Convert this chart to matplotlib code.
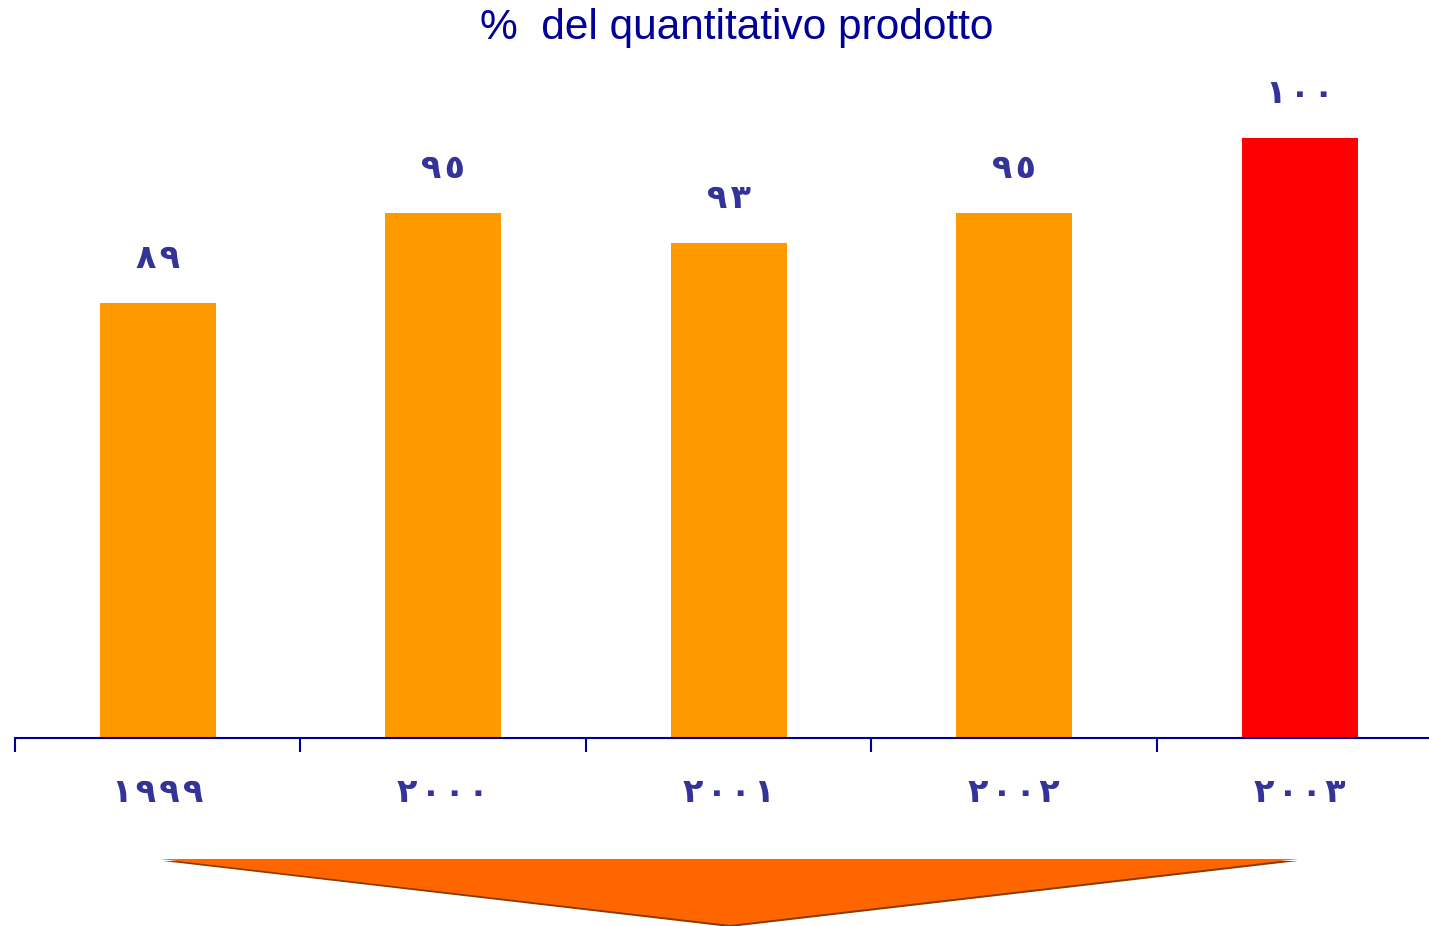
import matplotlib
matplotlib.use("Agg")
import matplotlib.pyplot as plt
from matplotlib.patches import Polygon

years = ["١٩٩٩", "٢٠٠٠", "٢٠٠١", "٢٠٠٢", "٢٠٠٣"]
values = [89, 95, 93, 95, 100]
value_labels = ["٨٩", "٩٥", "٩٣", "٩٥", "١٠٠"]
colors = ["#FF9900", "#FF9900", "#FF9900", "#FF9900", "#FF0000"]

W, H = 1429, 926
fig = plt.figure(figsize=(W / 100, H / 100), dpi=100)

# axes: left at x=15px, baseline at y=738px
cat_w = 285.5
x0 = 15
ax_w = W - x0
ymin, ymax = 60, 105
px_per_unit = 15
ax_bottom = 738
ax_top = ax_bottom - (ymax - ymin) * px_per_unit
ax = fig.add_axes([x0 / W, (H - ax_bottom) / H, ax_w / W, (ax_bottom - ax_top) / H])
ax.set_xlim(-0.5, -0.5 + ax_w / cat_w)
ax.set_ylim(ymin, ymax)

xs = list(range(len(years)))
ax.bar(xs, values, width=116 / cat_w, color=colors, zorder=2)

SP = "\u200a"

def spaced(s):
    return SP.join(list(s))

for x, v, lab in zip(xs, values, value_labels):
    ax.text(x, v + 3.0, spaced(lab), ha="center", va="center", fontsize=24,
            fontweight="bold", color="#333399", family=["DejaVu Sans"])

for s in ["top", "right", "left"]:
    ax.spines[s].set_visible(False)
ax.spines["bottom"].set_color("#000099")
ax.spines["bottom"].set_linewidth(1.5)
ax.set_yticks([])
ax.set_xticks([i - 0.5 for i in range(len(years))], minor=False)
ax.set_xticklabels([])
ax.tick_params(axis="x", direction="out", length=10, width=1.5, color="#000099")
for x, lab in zip(xs, years):
    ax.text(x, ymin - 3.6, spaced(lab), ha="center", va="center", fontsize=24,
            fontweight="bold", color="#333399", family=["DejaVu Sans"])

fig.text(737 / W, 1 - 28 / H, "%  del quantitativo prodotto", ha="center", va="center",
         fontsize=30.5, color="#000099", family=["Liberation Sans"])

# decorative arrow at the bottom
def fp(x, y):
    return (x / W, 1 - y / H)

shadow = Polygon([fp(163, 861), fp(1298, 861), fp(730, 927)], closed=True,
                 transform=fig.transFigure, facecolor="#8B3A00", edgecolor="none")
fig.patches.append(shadow)
arrow = Polygon([fp(160, 859), fp(1298, 859), fp(730, 925)], closed=True,
                transform=fig.transFigure, facecolor="#FF6600", edgecolor="none")
fig.patches.append(arrow)

fig.savefig("out.png", dpi=100)
